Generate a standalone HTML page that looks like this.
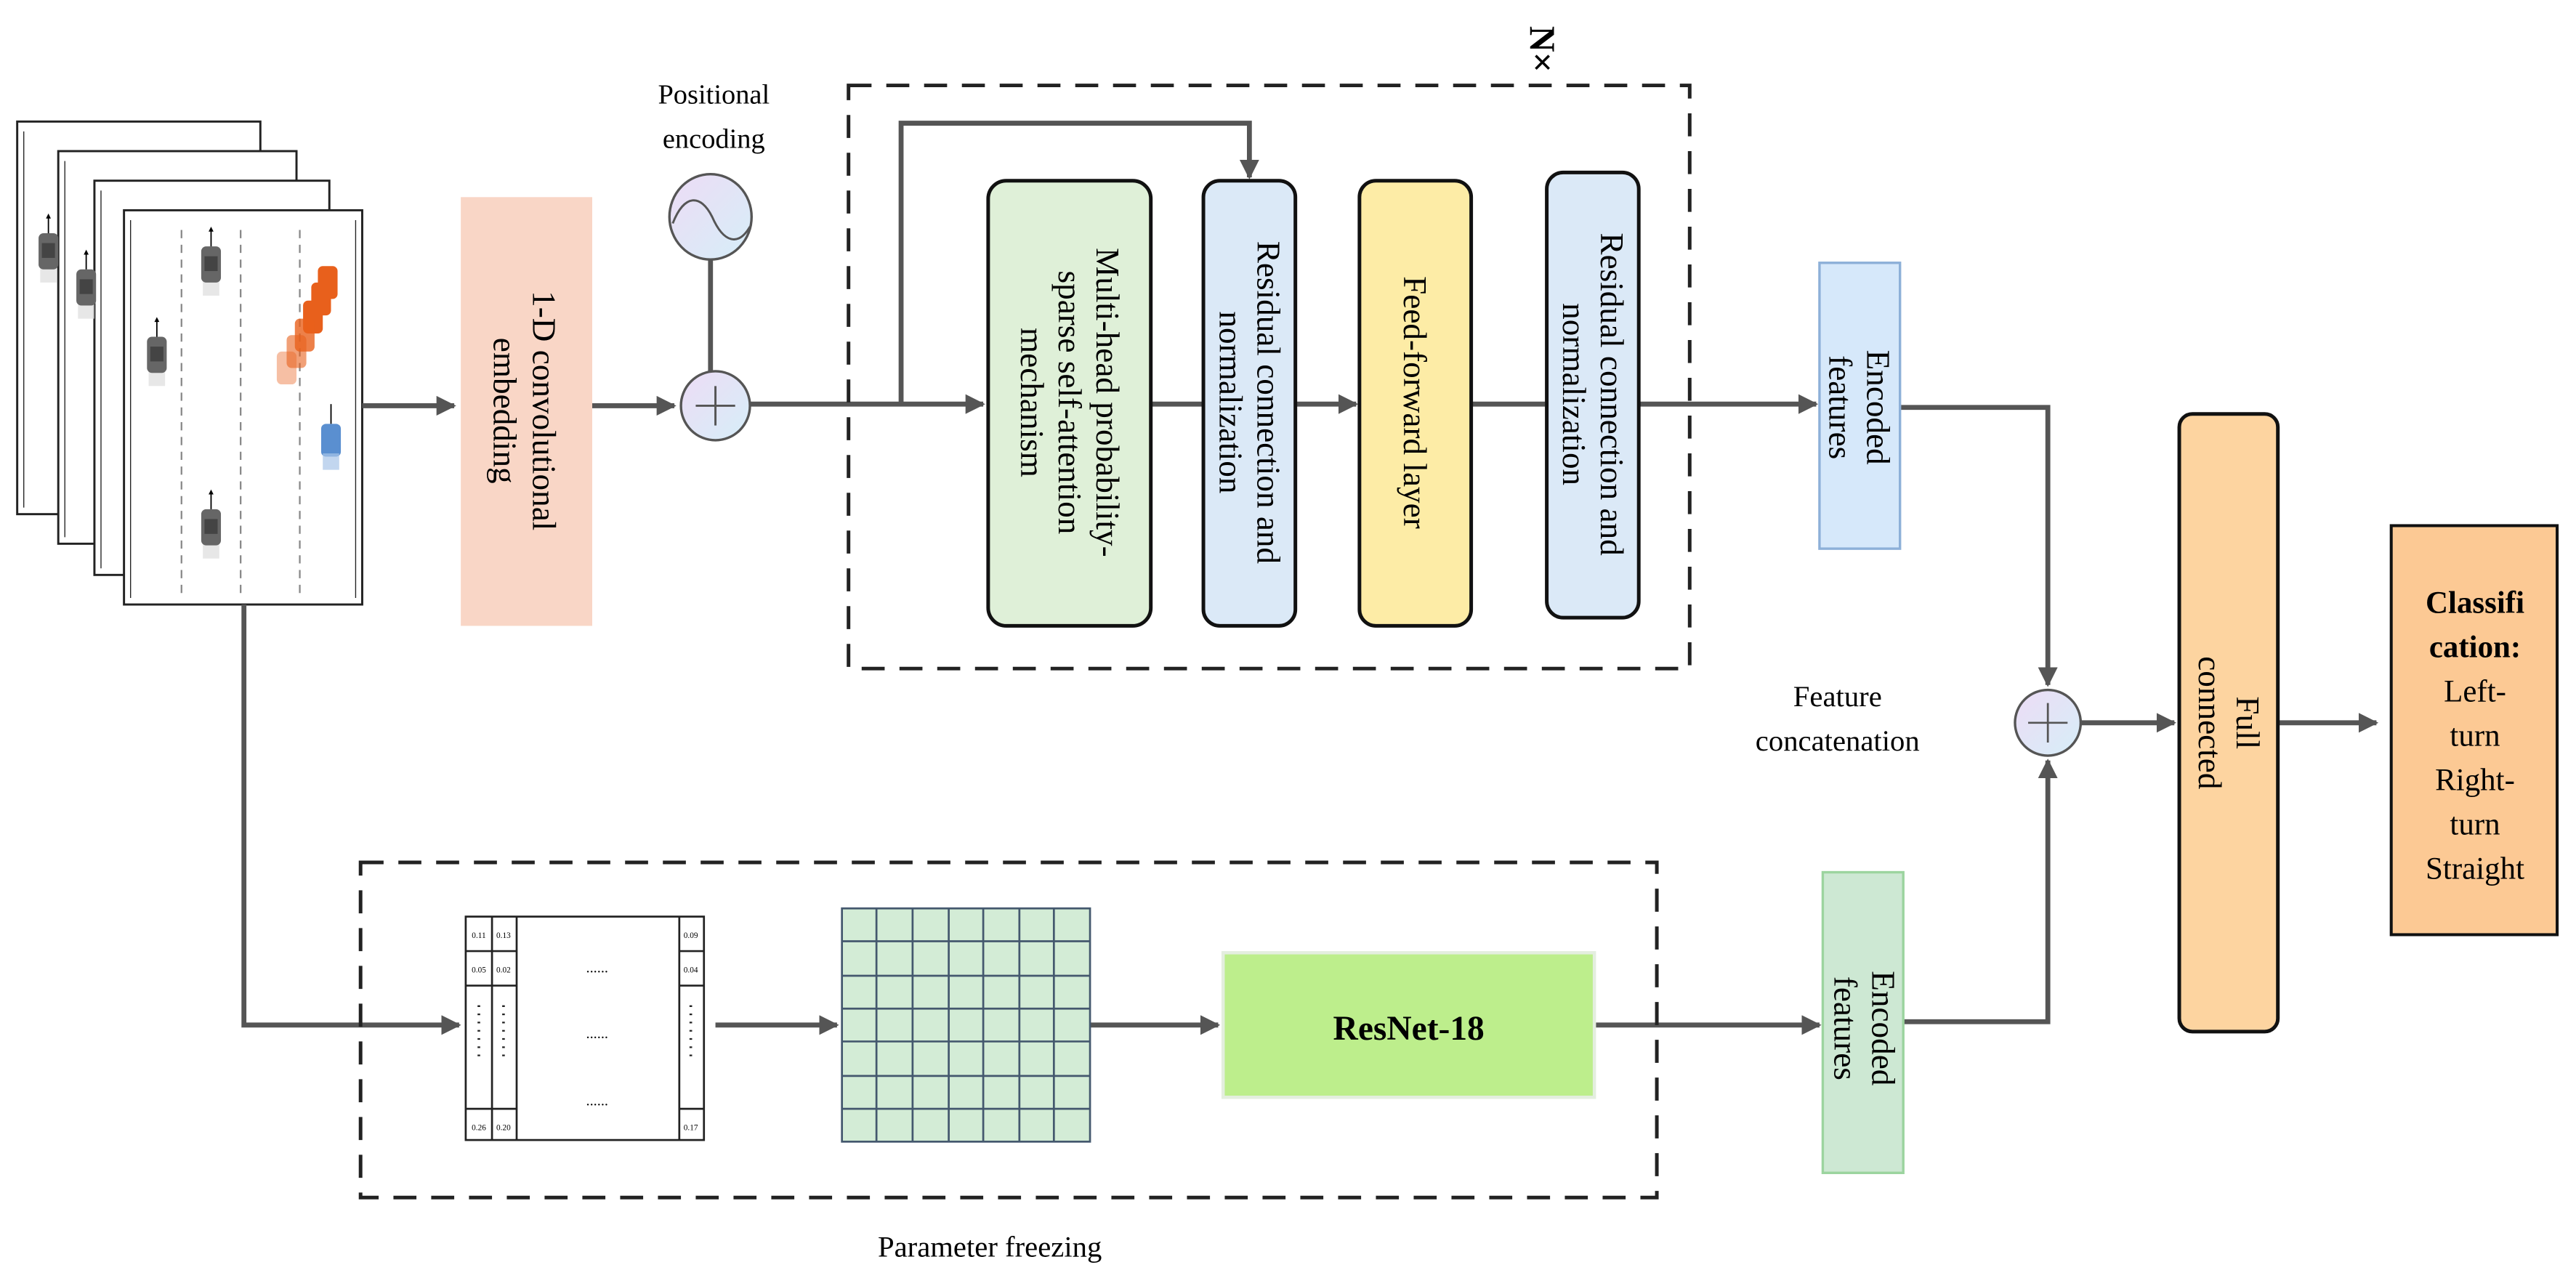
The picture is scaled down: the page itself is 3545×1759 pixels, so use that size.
<!DOCTYPE html>
<html><head><meta charset="utf-8"><style>html,body{margin:0;padding:0;background:#fff;overflow:hidden}svg{display:block}</style></head>
<body>
<svg width="3545" height="1759" viewBox="0 0 1567 778" xmlns="http://www.w3.org/2000/svg" font-family="Liberation Serif, serif">
<defs>
<marker id="ah" viewBox="0 0 10 10" refX="9" refY="5" markerWidth="4" markerHeight="4" orient="auto-start-reverse" markerUnits="strokeWidth">
<path d="M0,0 L10,5 L0,10 z" fill="#555"/></marker>
<g id="car"><rect x="-5" y="10" width="10" height="12" fill="#ddd" opacity="0.7"/><rect x="-6" y="-8" width="12" height="22" rx="3" fill="#666"/><rect x="-4" y="-2" width="8" height="9" fill="#444"/><line x1="0" y1="-8" x2="0" y2="-18" stroke="#000" stroke-width="0.8"/><path d="M-1.5,-17 L0,-20 L1.5,-17z" fill="#000"/></g>
<g id="ocar"><rect x="-6" y="-8" width="12" height="20" rx="3" fill="#e8601c"/></g>
<linearGradient id="cg" x1="0" y1="0" x2="1" y2="1"><stop offset="0" stop-color="#eddcf5"/><stop offset="1" stop-color="#d6eef8"/></linearGradient>
</defs>
<g stroke="#222" stroke-width="1.3" fill="#fff">
<rect x="10" y="74" width="148" height="239"/>
<rect x="35" y="92" width="145" height="239"/>
<rect x="57" y="110" width="143" height="240"/>
<rect x="75" y="128" width="145" height="240"/>
</g>
<g stroke="#222" stroke-width="0.6"><line x1="14" y1="80" x2="14" y2="309"/><line x1="39" y1="98" x2="39" y2="327"/><line x1="61" y1="116" x2="61" y2="346"/><line x1="79" y1="134" x2="79" y2="364"/><line x1="216" y1="134" x2="216" y2="364"/></g>
<g stroke="#888" stroke-width="1" stroke-dasharray="5,4"><line x1="110" y1="140" x2="110" y2="362"/><line x1="146" y1="140" x2="146" y2="362"/><line x1="182" y1="140" x2="182" y2="362"/></g>
<use href="#car" x="29" y="150"/><use href="#car" x="52" y="172"/><use href="#car" x="128" y="158"/><use href="#car" x="95" y="213"/><use href="#car" x="128" y="318"/>
<g><use href="#ocar" x="199" y="170"/><use href="#ocar" x="195" y="180"/><use href="#ocar" x="190" y="191"/><use href="#ocar" x="185" y="202" opacity="0.8"/><use href="#ocar" x="180" y="212" opacity="0.6"/><use href="#ocar" x="174" y="222" opacity="0.4"/></g>
<rect x="195" y="258" width="12" height="20" rx="3" fill="#5a8fd0"/><rect x="196" y="276" width="10" height="10" fill="#a8c4e8" opacity="0.7"/><line x1="201" y1="258" x2="201" y2="246" stroke="#000" stroke-width="0.8"/>

<g stroke="#555" stroke-width="3" fill="none">
<line x1="220" y1="247" x2="276" y2="247" marker-end="url(#ah)"/>
<line x1="360" y1="247" x2="410" y2="247" marker-end="url(#ah)"/>
<line x1="432" y1="158" x2="432" y2="226"/>
<line x1="456" y1="246" x2="598" y2="246" marker-end="url(#ah)"/>
<polyline points="548,246 548,75 760,75 760,108" marker-end="url(#ah)"/>
<line x1="700" y1="246" x2="732" y2="246"/>
<line x1="788" y1="246" x2="825" y2="246" marker-end="url(#ah)"/>
<line x1="895" y1="246" x2="940" y2="246"/>
<line x1="998" y1="246" x2="1105" y2="246" marker-end="url(#ah)"/>
<polyline points="1156,248 1246,248 1246,417" marker-end="url(#ah)"/>
<polyline points="148,368 148,624 279,624" marker-end="url(#ah)"/>
<line x1="435" y1="624" x2="509" y2="624" marker-end="url(#ah)"/>
<line x1="663" y1="624" x2="741" y2="624" marker-end="url(#ah)"/>
<line x1="970" y1="624" x2="1107" y2="624" marker-end="url(#ah)"/>
<polyline points="1158,622 1246,622 1246,463" marker-end="url(#ah)"/>
<line x1="1266" y1="440" x2="1323" y2="440" marker-end="url(#ah)"/>
<line x1="1386" y1="440" x2="1446" y2="440" marker-end="url(#ah)"/>
</g>

<rect x="280" y="120" width="80" height="261" fill="#f9d6c6"/>
<text transform="translate(320,250) rotate(90)" text-anchor="middle" font-size="20"><tspan x="0" dy="-4">1-D convolutional</tspan><tspan x="0" dy="24">embedding</tspan></text>

<text x="434" y="63" text-anchor="middle" font-size="17">Positional</text>
<text x="434" y="90" text-anchor="middle" font-size="17">encoding</text>
<ellipse cx="432" cy="132" rx="25" ry="26" fill="url(#cg)" stroke="#555" stroke-width="1.5"/>
<path d="M409,136 C416,118 426,118 433,132 C440,148 449,150 456,138" fill="none" stroke="#555" stroke-width="1.3"/>
<ellipse cx="435" cy="247" rx="21" ry="21" fill="url(#cg)" stroke="#555" stroke-width="1.5"/>
<path d="M423,247 H447 M435,235 V259" stroke="#555" stroke-width="1.3"/>

<rect x="516" y="52" width="512" height="355" fill="none" stroke="#222" stroke-width="2.2" stroke-dasharray="14,9"/>
<text transform="translate(938,30) rotate(90)" text-anchor="middle" font-size="22" font-weight="bold" dy="7">N×</text>

<rect x="601" y="110" width="99" height="271" rx="11" fill="#dff0d8" stroke="#111" stroke-width="2.2"/>
<text transform="translate(650,245) rotate(90)" text-anchor="middle" font-size="20"><tspan x="0" dy="-17">Multi-head probability-</tspan><tspan x="0" dy="23">sparse self-attention</tspan><tspan x="0" dy="23">mechanism</tspan></text>
<rect x="732" y="110" width="56" height="271" rx="10" fill="#dbe9f7" stroke="#111" stroke-width="2.2"/>
<text transform="translate(760,245) rotate(90)" text-anchor="middle" font-size="20"><tspan x="0" dy="-5">Residual connection and</tspan><tspan x="0" dy="23">normalization</tspan></text>
<rect x="827" y="110" width="68" height="271" rx="10" fill="#fdeca6" stroke="#111" stroke-width="2.2"/>
<text transform="translate(861,245) rotate(90)" text-anchor="middle" font-size="20" dy="7">Feed-forward layer</text>
<rect x="941" y="105" width="56" height="271" rx="10" fill="#dbe9f7" stroke="#111" stroke-width="2.2"/>
<text transform="translate(969,240) rotate(90)" text-anchor="middle" font-size="20"><tspan x="0" dy="-5">Residual connection and</tspan><tspan x="0" dy="23">normalization</tspan></text>

<rect x="1107" y="160" width="49" height="174" fill="#d6e8fa" stroke="#8db0d8" stroke-width="1.5"/>
<text transform="translate(1131,248) rotate(90)" text-anchor="middle" font-size="20"><tspan x="0" dy="-5">Encoded</tspan><tspan x="0" dy="23">features</tspan></text>
<text x="1118" y="430" text-anchor="middle" font-size="18">Feature</text>
<text x="1118" y="457" text-anchor="middle" font-size="18">concatenation</text>
<ellipse cx="1246" cy="440" rx="20" ry="20" fill="url(#cg)" stroke="#555" stroke-width="1.5"/>
<path d="M1234,440 H1258 M1246,428 V452" stroke="#555" stroke-width="1.2"/>

<rect x="1326" y="252" width="60" height="376" rx="8" fill="#fdd4a0" stroke="#111" stroke-width="2.2"/>
<text transform="translate(1356,440) rotate(90)" text-anchor="middle" font-size="20"><tspan x="0" dy="-5">Full</tspan><tspan x="0" dy="23">connected</tspan></text>
<rect x="1455" y="320" width="101" height="249" fill="#fcc994" stroke="#111" stroke-width="1.8"/>
<g text-anchor="middle" font-size="19"><text x="1506" y="373" font-weight="bold">Classifi</text><text x="1506" y="400" font-weight="bold">cation:</text><text x="1506" y="427">Left-</text><text x="1506" y="454">turn</text><text x="1506" y="481">Right-</text><text x="1506" y="508">turn</text><text x="1506" y="535">Straight</text></g>

<rect x="219" y="525" width="789" height="204" fill="none" stroke="#222" stroke-width="2.2" stroke-dasharray="14,9"/>
<text x="602" y="765" text-anchor="middle" font-size="18">Parameter freezing</text>

<g stroke="#222" stroke-width="1.2" fill="#fff">
<rect x="283" y="558" width="145" height="136"/>
<line x1="299" y1="558" x2="299" y2="694"/><line x1="314" y1="558" x2="314" y2="694"/><line x1="413" y1="558" x2="413" y2="694"/>
<line x1="283" y1="579" x2="314" y2="579"/><line x1="283" y1="600" x2="314" y2="600"/><line x1="283" y1="675" x2="314" y2="675"/>
<line x1="413" y1="579" x2="428" y2="579"/><line x1="413" y1="600" x2="428" y2="600"/><line x1="413" y1="675" x2="428" y2="675"/>
</g>
<g font-size="5" text-anchor="middle"><text x="291" y="571">0.11</text><text x="306" y="571">0.13</text><text x="420" y="571">0.09</text><text x="291" y="592">0.05</text><text x="306" y="592">0.02</text><text x="420" y="592">0.04</text><text x="291" y="688">0.26</text><text x="306" y="688">0.20</text><text x="420" y="688">0.17</text></g>
<g font-size="9" text-anchor="middle"><text x="363" y="592">......</text><text x="363" y="632">......</text><text x="363" y="673">......</text></g>
<g stroke="#222" stroke-width="1.6" stroke-dasharray="1,4"><line x1="291" y1="612" x2="291" y2="645"/><line x1="306" y1="612" x2="306" y2="645"/><line x1="420" y1="612" x2="420" y2="645"/></g>

<rect x="512" y="553" width="151" height="142" fill="#d3ecd6" stroke="#44586e" stroke-width="1.2"/>
<g stroke="#44586e" stroke-width="1.2">
<line x1="533" y1="553" x2="533" y2="695"/><line x1="555" y1="553" x2="555" y2="695"/><line x1="577" y1="553" x2="577" y2="695"/><line x1="598" y1="553" x2="598" y2="695"/><line x1="620" y1="553" x2="620" y2="695"/><line x1="641" y1="553" x2="641" y2="695"/>
<line x1="512" y1="573" x2="663" y2="573"/><line x1="512" y1="594" x2="663" y2="594"/><line x1="512" y1="614" x2="663" y2="614"/><line x1="512" y1="634" x2="663" y2="634"/><line x1="512" y1="655" x2="663" y2="655"/><line x1="512" y1="675" x2="663" y2="675"/>
</g>
<rect x="744" y="580" width="226" height="88" fill="#bdee8c" stroke="#e4eedf" stroke-width="2"/>
<text x="857" y="633" text-anchor="middle" font-size="21" font-weight="bold">ResNet-18</text>

<rect x="1109" y="531" width="49" height="183" fill="#cde8d3" stroke="#9cd49f" stroke-width="1.5"/>
<text transform="translate(1134,626) rotate(90)" text-anchor="middle" font-size="20"><tspan x="0" dy="-5">Encoded</tspan><tspan x="0" dy="23">features</tspan></text>
</svg>
</body></html>
